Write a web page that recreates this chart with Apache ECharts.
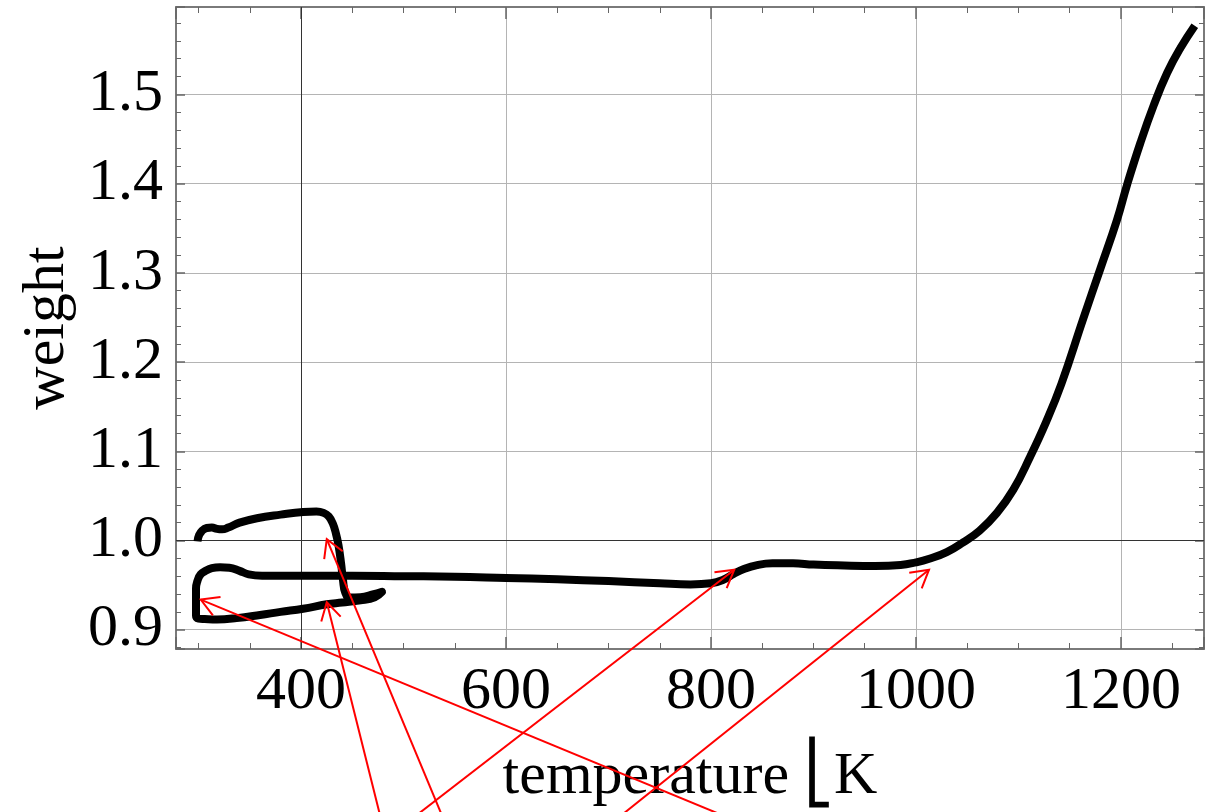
<!DOCTYPE html>
<html><head><meta charset="utf-8">
<script src="https://cdn.jsdelivr.net/npm/echarts@6/dist/echarts.min.js"></script>
<style>html,body{margin:0;padding:0;background:#fff}#c{width:1206px;height:812px}</style>
</head><body><div id="c"></div>
<script>
// curve, in drawing order (temperature in K, weight)
const temperature = [299, 300.5, 303.5, 308, 313, 318, 323, 329, 340, 357, 380, 402, 415, 422, 427, 431, 434, 436.5, 439, 441, 443, 447, 458, 470, 479,
  472, 458, 440, 425, 402, 380, 360, 337, 318, 306, 300, 297.5, 297.5, 297.5, 299, 302, 307, 313, 321, 330, 340, 349, 362,
  400, 450, 500, 550, 600, 650, 700, 750, 780, 800, 812, 822, 832, 845, 860, 880, 900, 930, 960, 985, 1000, 1013, 1030, 1046, 1062,
  1079, 1095, 1111, 1127, 1142, 1163, 1180, 1196, 1206, 1219, 1232, 1245, 1258, 1272];
const weight = [0.999, 1.006, 1.011, 1.014, 1.0145, 1.013, 1.0125, 1.0145, 1.020, 1.025, 1.029, 1.032, 1.0325, 1.031, 1.027, 1.019, 1.008, 0.995, 0.975, 0.955, 0.942, 0.936, 0.9365, 0.9395, 0.9425,
  0.9365, 0.933, 0.9305, 0.9285, 0.9235, 0.920, 0.9165, 0.913, 0.9115, 0.912, 0.9125, 0.916, 0.932, 0.946, 0.955, 0.962, 0.966, 0.969, 0.970, 0.9695, 0.966, 0.962, 0.9605,
  0.9605, 0.9605, 0.960, 0.9595, 0.958, 0.9565, 0.9545, 0.952, 0.9508, 0.952, 0.956, 0.9625, 0.968, 0.9725, 0.9745, 0.9745, 0.973, 0.972, 0.9715, 0.9725, 0.9755, 0.9795, 0.987, 0.998, 1.011,
  1.031, 1.057, 1.093, 1.133, 1.176, 1.248, 1.305, 1.359, 1.399, 1.446, 1.488, 1.524, 1.552, 1.577];

// red annotation arrows: tail (below the frame) -> tip (on the curve)
const arrowTailT = [541.8, 479.7, 836.6, 499.1, 699.4];
const arrowTailW = [0.68, 0.68, 0.68, 0.68, 0.68];
const arrowTipT = [425.1, 425.1, 302.1, 822.7, 1012.7];
const arrowTipW = [1.0015, 0.9308, 0.9338, 0.9673, 0.9673];

const axisOrigin = [400, 1.0];
const xRange = [278, 1281];
const yRange = [0.8784, 1.598];
const xTitle = 'temperature \u23A3K';
const yTitle = 'weight';

const FONT = 'Liberation Serif';
const curve = temperature.map((t, i) => [t, weight[i]]);
const arrows = arrowTipT.map((t, i) => [arrowTailT[i], arrowTailW[i], t, arrowTipW[i]]);

const frame = { show: true, onZero: false, lineStyle: { color: '#7a7a7a', width: 2 } };
function xAx(pos, main) {
  return {
    type: 'value', position: pos, min: xRange[0], max: xRange[1], splitNumber: 5,
    axisLine: frame,
    axisTick: { show: true, inside: true, length: 12, lineStyle: { color: '#666', width: 1.5 } },
    minorTick: { show: true, splitNumber: 4, length: 6, lineStyle: { color: '#666', width: 1 } },
    splitLine: { show: main, lineStyle: { color: '#b4b4b4', width: 1 } },
    axisLabel: main ? { show: true, fontFamily: FONT, fontSize: 60, color: '#000', margin: 13, showMinLabel: false, showMaxLabel: false,
      formatter: v => String(Math.round(v)) } : { show: false },
    name: main ? xTitle : '', nameLocation: 'middle', nameGap: 98,
    nameTextStyle: { fontFamily: FONT, fontSize: 60, color: '#000' }
  };
}
function yAx(pos, main) {
  return {
    type: 'value', position: pos, min: yRange[0], max: yRange[1], splitNumber: 7,
    axisLine: frame,
    axisTick: { show: true, inside: true, length: 9, lineStyle: { color: '#666', width: 1.5 } },
    minorTick: { show: true, splitNumber: 5, length: 5, lineStyle: { color: '#666', width: 1 } },
    splitLine: { show: main, lineStyle: { color: '#b4b4b4', width: 1 } },
    axisLabel: main ? { show: true, fontFamily: FONT, fontSize: 60, color: '#000', margin: 13, showMinLabel: false, showMaxLabel: false,
      formatter: v => v.toFixed(1) } : { show: false },
    name: main ? yTitle : '', nameLocation: 'middle', nameGap: 99,
    nameTextStyle: { fontFamily: FONT, fontSize: 60, color: '#000' }
  };
}

const chart = echarts.init(document.getElementById('c'), null, { renderer: 'canvas' });
chart.setOption({
  animation: false,
  backgroundColor: '#fff',
  grid: { left: 176, right: 2, top: 7, bottom: 160, containLabel: false },
  xAxis: [xAx('bottom', true), xAx('top', false)],
  yAxis: [yAx('left', true), yAx('right', false)],
  series: [
    {
      type: 'line', data: curve, xAxisIndex: 0, yAxisIndex: 0,
      showSymbol: false, symbol: 'none', smooth: 0.45, z: 3,
      lineStyle: { color: '#000', width: 8, join: 'round', cap: 'butt' },
      emphasis: { disabled: true }, silent: true,
      markLine: {
        silent: true, symbol: 'none', label: { show: false }, z: 2,
        lineStyle: { color: '#333', width: 1, type: 'solid' },
        emphasis: { disabled: true },
        data: [{ xAxis: axisOrigin[0] }, { yAxis: axisOrigin[1] }]
      }
    },
    {
      type: 'custom', data: arrows, clip: false, z: 10, silent: true,
      encode: { x: [0, 2], y: [1, 3] },
      renderItem(params, api) {
        const a = api.coord([api.value(0), api.value(1)]);
        const b = api.coord([api.value(2), api.value(3)]);
        const ang = Math.atan2(a[1] - b[1], a[0] - b[0]);
        const L = 20, h = Math.PI / 6;
        const p1 = [b[0] + L * Math.cos(ang + h), b[1] + L * Math.sin(ang + h)];
        const p2 = [b[0] + L * Math.cos(ang - h), b[1] + L * Math.sin(ang - h)];
        return {
          type: 'group', children: [
            { type: 'line', shape: { x1: a[0], y1: a[1], x2: b[0], y2: b[1] }, style: { stroke: '#ff0000', lineWidth: 2 } },
            { type: 'polyline', shape: { points: [p1, b, p2] }, style: { stroke: '#ff0000', lineWidth: 2, fill: null } }
          ]
        };
      }
    }
  ]
});
</script>
</body></html>
